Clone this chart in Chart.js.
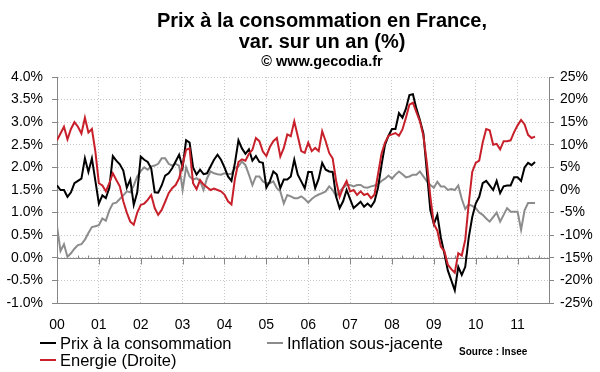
<!DOCTYPE html>
<html lang="fr">
<head>
<meta charset="utf-8">
<title>Prix à la consommation en France</title>
<script src="https://cdn.jsdelivr.net/npm/chart.js@4.4.1/dist/chart.umd.min.js"></script>
<style>
  html, body { margin: 0; padding: 0; background: #fff; }
  #wrap { position: relative; width: 600px; height: 372px; font-family: "Liberation Sans", Arial, sans-serif; color: #000; }
  #chart { position: absolute; left: 0; top: 0; }
  .t { position: absolute; white-space: nowrap; }
  .title { left: 122px; width: 400px; text-align: center; font-weight: bold; }
  .leg { font-size: 16.5px; line-height: 18px; }
  .swatch { position: absolute; width: 16px; height: 2px; }
</style>
</head>
<body>
<div id="wrap">
  <canvas id="chart" width="600" height="372"></canvas>
  <div class="t title" style="top:9px;font-size:20px;line-height:22px;">Prix à la consommation en France,</div>
  <div class="t title" style="top:30px;font-size:20px;line-height:22px;">var. sur un an (%)</div>
  <div class="t title" style="top:53px;font-size:14.5px;line-height:16px;">© www.gecodia.fr</div>

  <div class="swatch" style="left:40px;top:342px;background:#000;"></div>
  <div class="t leg" style="left:60px;top:334px;">Prix à la consommation</div>
  <div class="swatch" style="left:267px;top:342px;background:#8c8c8c;"></div>
  <div class="t leg" style="left:287px;top:334px;">Inflation sous-jacente</div>
  <div class="swatch" style="left:40px;top:359px;background:#c8202a;"></div>
  <div class="t leg" style="left:60px;top:351px;">Energie (Droite)</div>
  <div class="t" style="left:459px;top:346px;font-size:10px;line-height:12px;font-weight:bold;">Source : Insee</div>
</div>
<script>
// Glissement annuel mensuel, janvier 2000 -> juin 2011
const yearLabels = ['00','01','02','03','04','05','06','07','08','09','10','11'];

// Prix à la consommation (%, axe gauche)
const cpi = [
  1.6, 1.5, 1.5, 1.35, 1.45, 1.65, 1.7, 1.75, 2.2, 1.9, 2.2, 1.7,
  1.2, 1.38, 1.32, 1.55, 2.25, 2.15, 2.07, 1.93, 1.55, 1.73, 1.17, 1.45,
  2.24, 2.17, 2.12, 1.98, 1.45, 1.44, 1.6, 1.82, 1.87, 1.98, 2.13, 2.28,
  2.0, 2.6, 2.55, 2.0, 1.84, 1.95, 1.85, 1.87, 2.02, 2.17, 2.28, 2.17,
  2.0, 1.8, 1.7, 2.1, 2.6, 2.42, 2.3, 2.4, 2.15, 2.25, 2.12, 2.1,
  1.55, 1.69, 1.91, 1.84, 1.54, 1.73, 1.73, 1.8, 2.17, 1.84, 1.69, 1.54,
  1.9, 1.9, 1.54, 1.75, 2.1, 1.95, 1.91, 1.9, 1.35, 1.1, 1.25, 1.5,
  1.3, 1.1, 1.17, 1.24, 1.13, 1.2, 1.13, 1.25, 1.55, 2.05, 2.5, 2.7,
  2.85, 2.85, 3.2, 3.1, 3.3, 3.6, 3.62, 3.3, 3.05, 2.75, 1.9, 1.05,
  0.75, 0.95, 0.45, 0.1, -0.28, -0.5, -0.72, -0.2, -0.38, -0.2, 0.45, 0.9,
  1.2, 1.35, 1.65, 1.7, 1.6, 1.5, 1.7, 1.43, 1.58, 1.6, 1.6, 1.78,
  1.78, 1.7, 2.0, 2.1, 2.05, 2.12
];

// Inflation sous-jacente (%, axe gauche)
const core = [
  0.7, 0.15, 0.3, 0.02, 0.1, 0.2, 0.28, 0.3, 0.4, 0.55, 0.68, 0.7,
  0.72, 0.87, 0.82, 1.05, 1.2, 1.22, 1.3, 1.38, 1.47, 1.45, 1.6, 1.8,
  1.92, 2.0, 1.95, 2.02, 2.04, 2.08, 2.2, 2.2, 2.08, 2.04, 2.08, 2.04,
  1.5, 2.0, 1.8, 1.73, 1.76, 1.7, 1.5, 1.76, 1.91, 1.87, 1.85, 1.84,
  1.87, 1.85, 1.86, 1.99, 2.02, 2.13, 2.05, 1.84, 1.61, 1.8, 1.8, 1.69,
  1.65, 1.65, 1.69, 1.54, 1.47, 1.2, 1.39, 1.36, 1.32, 1.32, 1.36, 1.3,
  1.22, 1.3, 1.36, 1.4, 1.43, 1.47, 1.58, 1.5, 1.36, 1.47, 1.55, 1.61,
  1.61, 1.58, 1.61, 1.61, 1.56, 1.55, 1.58, 1.6, 1.63, 1.7, 1.75, 1.82,
  1.75, 1.84, 1.91, 1.85, 1.78, 1.8, 1.84, 1.84, 1.91, 1.8, 1.69, 1.61,
  1.55, 1.68, 1.58, 1.58, 1.5, 1.52, 1.5, 1.6, 1.3, 1.08, 1.18, 1.15,
  1.1, 1.0, 0.95, 0.87, 0.8, 0.9, 1.0, 0.8, 0.95, 1.1, 1.02, 1.02,
  1.02, 0.62, 1.05, 1.21, 1.21, 1.21
];

// Energie (%, axe droit)
const energy = [
  11, 12.5, 14, 11.2, 13.5, 15, 14, 12.5, 16, 12.7, 13.5, 8.5,
  1.5, 1, -0.3, 1.5, 3.7, 2.2, 0.8, -2.5, -5, -7, -7.7, -5,
  -3.3, -3, -2.2, -1.1, -4, -5.5, -4.4, -2.6, -0.7, 0.4, 1.1, 2.6,
  5.6, 8.9, 9.2, 1.5, 0.2, 2.2, 1.2, 0.6, 0, 0.3, 0, -0.3,
  -1, -2.5, -3.2, 2.5, 6.2, 6.8, 6.5, 8, 8.9, 11.5, 10.8, 8.5,
  7.5, 9.5, 10.8, 11.5, 7.4, 9.3, 12.3, 11.9, 15.2, 11.9, 8.6, 8.2,
  10.5, 8.6, 9.3, 8.6, 13, 10.8, 8.2, 7, 2, -1.5, 0.5, 2,
  -0.3, 0, -1.1, -0.3, -1.1, -0.8, -1.8, -1, 3.5, 8, 10.5, 12,
  12.3, 12.6, 12, 13.4, 16, 18.9, 19.3, 17.2, 15.2, 12, 6, -1.5,
  -7.5, -9, -12.5, -13.5, -16.5, -17.5, -18.3, -14, -14.5, -11, -3, 4,
  6, 6.5, 10.5, 13.5, 13.2, 10, 10.2, 9, 10.8, 10.8, 11, 12.8,
  14.3, 15.5, 14.5, 12.2, 11.5, 11.8
];

// Axes
const leftTicks = { min: -1, max: 4, step: 0.5 };
const rightTicks = { min: -25, max: 25, step: 5 };
const xRange = { min: 0, max: 141, step: 3 };

const AXIS = '#868686';
const GRID = '#c6c6c6';

Chart.defaults.font.family = '"Liberation Sans", Arial, sans-serif';
Chart.defaults.color = '#000';

// x = numéro du mois depuis janvier 2000
const pts = arr => arr.map((v, i) => ({ x: i, y: v }));

// ligne du zéro avec ses graduations (trimestres en haut, années en bas)
const zeroAxis = {
  id: 'zeroAxis',
  beforeDatasetsDraw(chart) {
    const { ctx, chartArea, scales } = chart;
    const y0 = Math.round(scales.y.getPixelForValue(0)) + 0.5;
    ctx.save();
    ctx.strokeStyle = AXIS;
    ctx.lineWidth = 1;
    ctx.beginPath();
    ctx.moveTo(chartArea.left, y0);
    ctx.lineTo(chartArea.right, y0);
    scales.x.ticks.forEach(t => {
      if (t.value <= xRange.min || t.value >= xRange.max) return;
      const x = Math.round(scales.x.getPixelForValue(t.value)) + 0.5;
      ctx.moveTo(x, y0);
      ctx.lineTo(x, t.value % 12 === 0 ? y0 + 6 : y0 - 3);
    });
    ctx.stroke();
    ctx.restore();
  }
};

const line = (label, data, color, axis, order) => ({
  label, data: pts(data), yAxisID: axis, order,
  borderColor: color, borderWidth: 2, pointRadius: 0, tension: 0, fill: false
});

new Chart(document.getElementById('chart'), {
  type: 'line',
  data: {
    datasets: [
      line('Energie (Droite)', energy, '#c8202a', 'y1', 0),
      line('Prix à la consommation', cpi, '#000000', 'y', 1),
      line('Inflation sous-jacente', core, '#8c8c8c', 'y', 2)
    ]
  },
  options: {
    responsive: false,
    animation: false,
    layout: { padding: { top: 77, left: 0, right: 0, bottom: 0 } },
    plugins: { legend: { display: false }, tooltip: { enabled: false } },
    scales: {
      x: {
        type: 'linear',
        min: xRange.min, max: xRange.max,
        afterFit: s => { s.height = 69; },
        ticks: {
          stepSize: xRange.step, autoSkip: false, maxRotation: 0, padding: 14,
          font: { size: 14 },
          callback: v => v % 12 === 0 ? yearLabels[v / 12] : ''
        },
        grid: {
          drawTicks: false,
          color: c => (c.tick && c.tick.value % 12 === 0 && c.tick.value > 0) ? GRID : 'rgba(0,0,0,0)'
        },
        border: { display: true, color: AXIS, dash: [1, 2] }
      },
      y: {
        position: 'left',
        min: leftTicks.min, max: leftTicks.max,
        afterFit: s => { s.width = 57; },
        ticks: { stepSize: leftTicks.step, padding: 9, font: { size: 14 }, callback: v => v.toFixed(1) + '%' },
        grid: { color: GRID, tickColor: AXIS, tickLength: 5 },
        border: { display: true, color: AXIS, dash: [1, 2] }
      },
      y1: {
        position: 'right',
        min: rightTicks.min, max: rightTicks.max,
        afterFit: s => { s.width = 51; },
        ticks: { stepSize: rightTicks.step, padding: 6, font: { size: 14 }, callback: v => v + '%' },
        grid: { drawOnChartArea: false, tickColor: AXIS, tickLength: 5 },
        border: { display: true, color: AXIS }
      }
    }
  },
  plugins: [zeroAxis]
});
</script>
</body>
</html>
